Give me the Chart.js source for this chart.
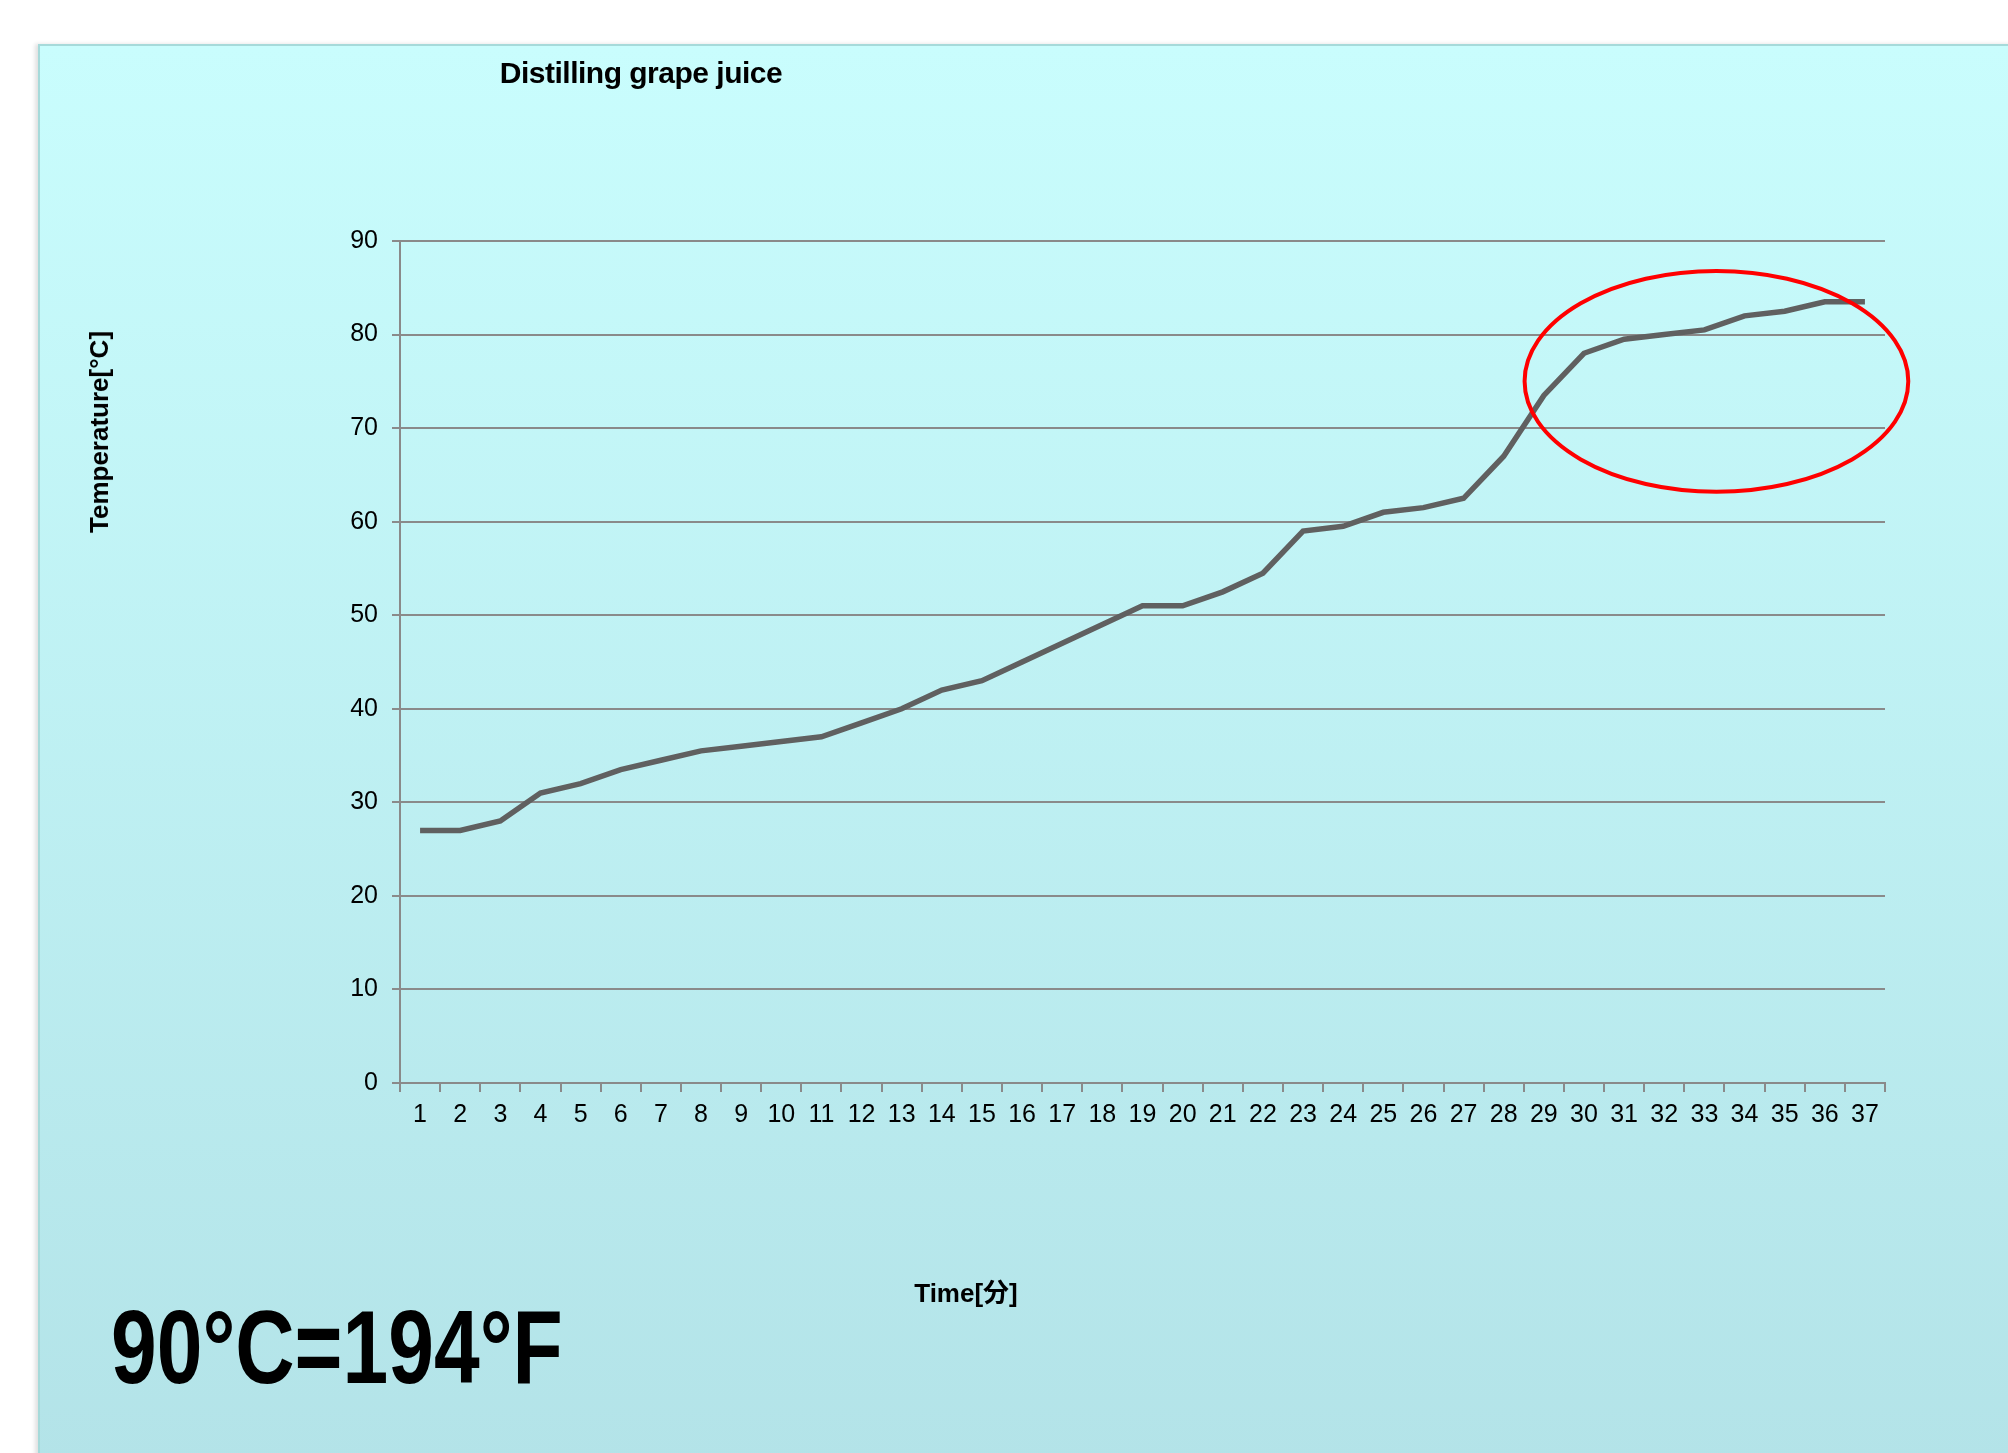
<!DOCTYPE html>
<html lang="ja">
<head>
    <meta charset="UTF-8">
    <title>Distilling grape juice</title>
    <script src="https://cdn.jsdelivr.net/npm/chart.js"></script>
    <style>
        body {
            margin: 0;
            width: 2008px;
            height: 1453px;
            overflow: hidden;
            background-color: #ffffff;
            font-family: "Liberation Sans", Arial, "Noto Sans CJK JP", sans-serif;
        }
        .panel {
            position: absolute;
            left: 38px;
            top: 44px;
            width: 1980px;
            height: 1420px;
            border-top: 2px solid #a6dada;
            border-left: 2px solid #a6dada;
            box-shadow: -3px 0 4px rgba(0, 0, 0, 0.12);
            background: linear-gradient(#c9fdfd, #b3e3e8);
        }
        canvas {
            position: absolute;
            left: 0;
            top: 0;
        }
        .txt {
            position: absolute;
            line-height: 1;
            white-space: nowrap;
            color: #000;
            font-weight: bold;
        }
    </style>
</head>
<body>
    <div class="panel"></div>
    <canvas id="juiceChart" width="2008" height="1453"></canvas>

    <div class="txt" style="left: 641px; top: 58px; font-size: 30px; letter-spacing: -0.5px; transform: translateX(-50%);">Distilling grape juice</div>
    <div class="txt" style="left: 99px; top: 432px; font-size: 26px; transform: translate(-50%, -50%) rotate(-90deg);">Temperature[°C]</div>
    <div class="txt" style="left: 966px; top: 1280px; font-size: 26px; transform: translateX(-50%);">Time[分]</div>
    <div class="txt" style="left: 111px; top: 1295px; font-size: 104px; transform: scaleX(0.79); transform-origin: left top;">90°C=194°F</div>

    <script>
        // 時間（分）と温度（℃）
        const minutes = ['1', '2', '3', '4', '5', '6', '7', '8', '9', '10',
            '11', '12', '13', '14', '15', '16', '17', '18', '19', '20',
            '21', '22', '23', '24', '25', '26', '27', '28', '29', '30',
            '31', '32', '33', '34', '35', '36', '37'];
        const temperatures = [27, 27, 28, 31, 32, 33.5, 34.5, 35.5, 36, 36.5,
            37, 38.5, 40, 42, 43, 45, 47, 49, 51, 51,
            52.5, 54.5, 59, 59.5, 61, 61.5, 62.5, 67, 73.5, 78,
            79.5, 80, 80.5, 82, 82.5, 83.5, 83.5];
        const yTicks = [0, 10, 20, 30, 40, 50, 60, 70, 80, 90];

        // 赤い楕円（データ単位: x は分, y は温度）
        const ringCenter = { x: 33.3, y: 75 };
        const ringRadius = { x: 4.78, y: 11.8 };

        const axisGray = '#8a8a8a';

        const ringPlugin = {
            id: 'ring',
            afterDatasetsDraw(chart) {
                const { ctx, scales: { x, y } } = chart;
                // カテゴリ軸は 0 始まりのインデックス
                const cx = x.getPixelForValue(ringCenter.x - 1);
                const cy = y.getPixelForValue(ringCenter.y);
                const rx = x.getPixelForValue(ringCenter.x - 1 + ringRadius.x) - cx;
                const ry = cy - y.getPixelForValue(ringCenter.y + ringRadius.y);
                ctx.save();
                ctx.beginPath();
                ctx.ellipse(cx, cy, rx, ry, 0, 0, Math.PI * 2);
                ctx.strokeStyle = '#ff0000';
                ctx.lineWidth = 4;
                ctx.stroke();
                ctx.restore();
            }
        };

        const ctx = document.getElementById('juiceChart').getContext('2d');
        new Chart(ctx, {
            type: 'line',
            data: {
                labels: minutes,
                datasets: [{
                    data: temperatures,
                    borderColor: '#606060',
                    borderWidth: 5.5,
                    pointRadius: 0,
                    tension: 0,
                    fill: false,
                }]
            },
            options: {
                responsive: false,
                devicePixelRatio: 1,
                animation: false,
                layout: {
                    padding: { left: 0, top: 241, right: 123, bottom: 270 }
                },
                plugins: {
                    legend: { display: false },
                    tooltip: { enabled: false },
                },
                scales: {
                    x: {
                        offset: true,
                        afterFit(scale) { scale.height = 100; },
                        grid: {
                            offset: true,
                            drawOnChartArea: false,
                            color: axisGray,
                            lineWidth: 2,
                            tickLength: 9,
                        },
                        border: { color: axisGray, width: 2 },
                        ticks: {
                            color: '#000',
                            padding: 8,
                            maxRotation: 0,
                            autoSkip: false,
                            font: { family: 'Liberation Sans', size: 25 },
                        }
                    },
                    y: {
                        min: 0,
                        max: 90,
                        afterFit(scale) { scale.width = 400; },
                        afterBuildTicks(scale) {
                            scale.ticks = yTicks.map(v => ({ value: v }));
                        },
                        grid: {
                            color: axisGray,
                            lineWidth: 2,
                            tickLength: 8,
                        },
                        border: { color: axisGray, width: 2 },
                        ticks: {
                            color: '#000',
                            padding: 14,
                            font: { family: 'Liberation Sans', size: 25 },
                        }
                    }
                }
            },
            plugins: [ringPlugin]
        });
    </script>
</body>
</html>
